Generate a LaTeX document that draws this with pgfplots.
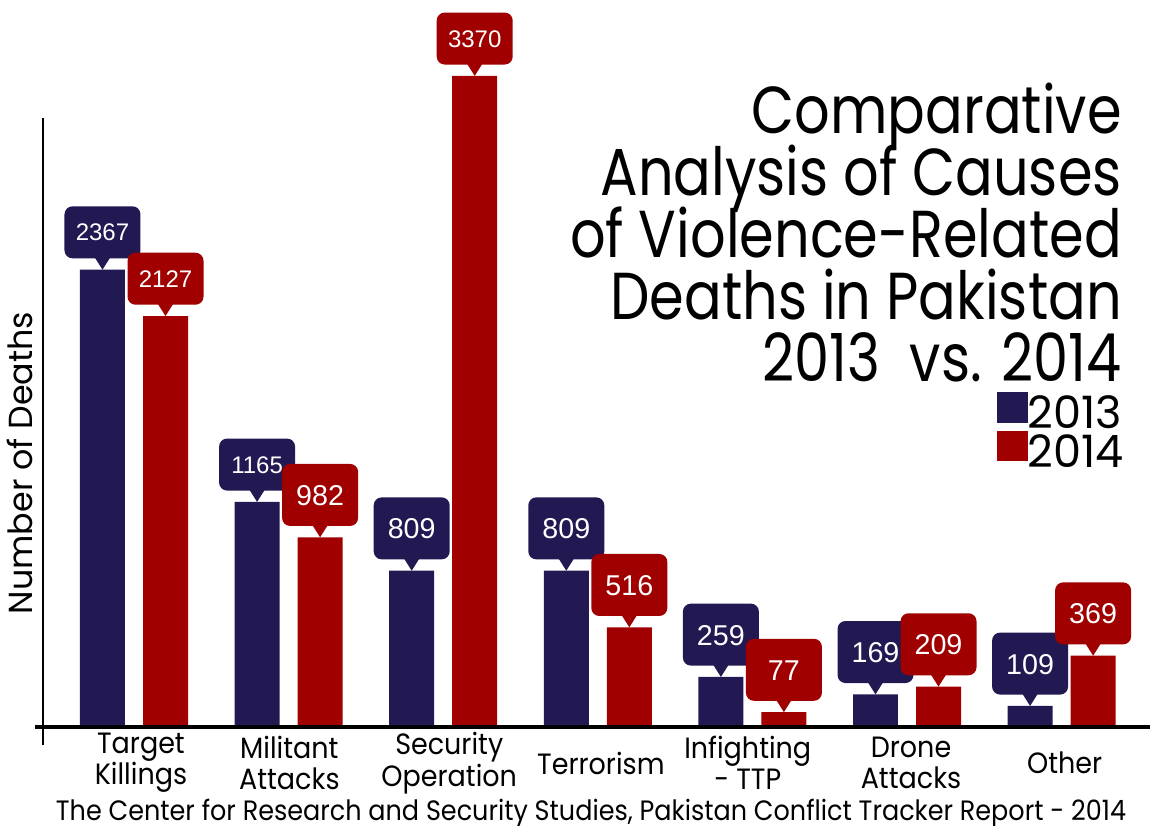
\documentclass[border=0pt]{standalone}
\usepackage{pgfplots}
\pgfplotsset{compat=1.18}
\usepackage{fontspec}
\setmainfont{Poppins}
\newfontfamily\titlefont{Poppins}[FakeStretch=0.84]
\newfontfamily\tickfont{Poppins}[FakeStretch=0.92]
\newfontfamily\footfont{Poppins}[FakeStretch=0.91]
\newfontfamily\numfont{Liberation Sans}
\newcommand\titlesize{\titlefont\fontsize{49.8}{46.5}\selectfont\setlength{\lineskiplimit}{-60pt}\setlength{\lineskip}{0pt}}
\definecolor{navy}{RGB}{34,24,82}
\definecolor{dred}{RGB}{160,0,0}
\tikzset{
  callout/.style={fill=#1, text=white, rounded corners=6pt, inner sep=0pt, outer sep=0pt,
    minimum width=57pt, anchor=south, yshift=8.5pt,
    append after command={\pgfextra{\fill[#1,sharp corners]
      ([xshift=-6pt,yshift=1pt]\tikzlastnode.south) -- ([xshift=6pt,yshift=1pt]\tikzlastnode.south)
      -- ([yshift=-8.5pt]\tikzlastnode.south) -- cycle;}}}
}
\newcommand\calllabel[1]{\numfont\ifdim#1pt>999pt\fontsize{18}{18}\selectfont\rule[-13.1pt]{0pt}{39pt}\else\fontsize{21.5}{22}\selectfont\rule[-15.4pt]{0pt}{46.5pt}\fi#1}
\begin{document}
\begin{tikzpicture}
\begin{axis}[
  scale only axis, width=830.25pt, height=537.75pt,
  xmin=-0.5886, xmax=6.5718, ymin=0, ymax=3711,
  clip=false,
  axis line style={draw=none}, tick style={draw=none},
  ytick=\empty,
  xtick={0.045,1.005,2.039,3.02,3.97,5.026,6.02},
  xticklabels={{Target\\Killings},{Militant\\Attacks},{Security\\Operation},{Terrorism},{Infighting\\- TTP},{Drone\\Attacks},{Other}},
  xticklabel style={align=center, anchor=center, yshift=-27pt, font=\tickfont\fontsize{22}{23.5}\selectfont},
  legend style={at={(0.8618,0.4672)}, anchor=north west, draw=none, fill=none, inner sep=0pt, outer sep=0pt,
    font=\fontsize{33.5}{33.5}\selectfont, nodes={inner sep=0pt}, row sep=0pt,
    /tikz/every even column/.append style={column sep=2pt}},
  legend cell align=left,
  point meta=explicit symbolic,
]
\coordinate (O) at (axis cs:-0.5886,0);
\addplot[ybar, bar width=0.291, bar shift=0pt, fill=navy, draw=none,
  legend image code/.code={\fill[navy] (0pt,-7pt) rectangle (23pt,16pt);},
  nodes near coords={\calllabel{\pgfplotspointmeta}},
  nodes near coords style={callout=navy}]
  coordinates {(-0.2038,2367) [2367] (0.7962,1165) [1165] (1.7962,809) [809] (2.7962,809) [809]
               (3.7962,259) [259] (4.7962,169) [169] (5.7962,109) [109]};
\addlegendentry{2013}
\addplot[ybar, bar width=0.291, bar shift=0pt, fill=dred, draw=none,
  legend image code/.code={\fill[dred] (0pt,-7pt) rectangle (23pt,16pt);},
  nodes near coords={\calllabel{\pgfplotspointmeta}},
  nodes near coords style={callout=dred}]
  coordinates {(0.2038,2127) [2127] (1.2038,982) [982] (2.2038,3370) [3370] (3.2038,516) [516]
               (4.2038,77) [77] (5.2038,209) [209] (6.2038,369) [369]};
\addlegendentry{2014}
\end{axis}
\begin{scope}[shift={(O)}, x=0.75pt, y=0.75pt]
\draw[line width=1.8pt] (0,-18) -- (0,609);
\draw[line width=2.5pt] (-8,0) -- (1107,0);
\node[anchor=north east, align=right, inner sep=0pt, font=\titlesize] at (1079,644)
  {Comparative\\Analysis of Causes\\of Violence-Related\\Deaths in Pakistan\\2013\ \ vs. 2014};
\node[rotate=90, anchor=base, font=\fontsize{25}{25}\selectfont] at (-10,264) {Number of Deaths};
\node[anchor=base, font=\footfont\fontsize{21}{21}\selectfont] at (548,-93) {The Center for Research and Security Studies, Pakistan Conflict Tracker Report - 2014};
\pgfresetboundingbox
\path[use as bounding box] (-43,-98) rectangle (1124,727);
\end{scope}
\end{tikzpicture}
\end{document}
